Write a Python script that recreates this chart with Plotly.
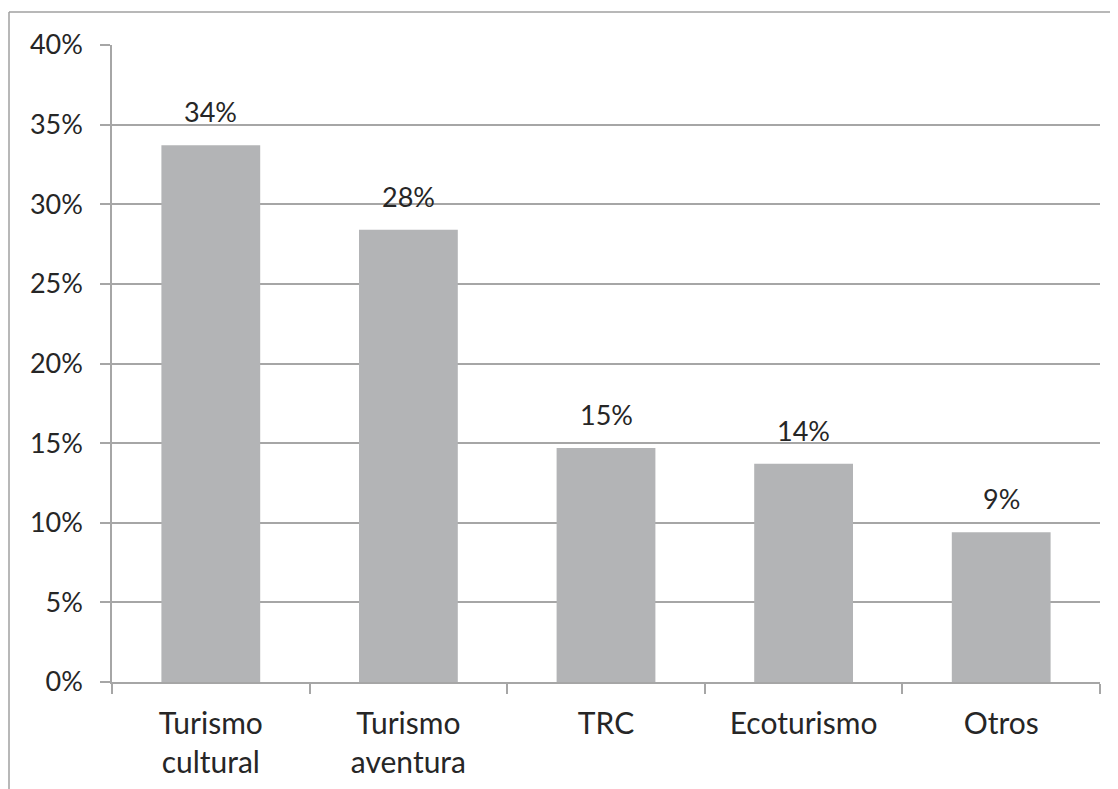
import plotly.graph_objects as go

categories = ["Turismo<br>cultural", "Turismo<br>aventura", "TRC", "Ecoturismo", "Otros"]
values = [0.337, 0.284, 0.147, 0.137, 0.094]
y_ticks = [0, 0.05, 0.10, 0.15, 0.20, 0.25, 0.30, 0.35, 0.40]

FONT = "Lato"
TXT = "#262626"
GRID = "#a6a6a6"

# page body has an 8px offset; the figure is placed at (8, 8)
OFF = 8
W, H = 1118, 789
L, T = 112 - OFF, 45 - OFF
R = W - (1100 - OFF)
B = H - (682 - OFF)
pw, ph = W - L - R, H - T - B

fig = go.Figure()
fig.add_trace(go.Bar(
    x=categories, y=values,
    marker=dict(color="#b3b4b6", line=dict(width=0)),
    hoverinfo="skip",
))

for c, v in zip(categories, values):
    fig.add_annotation(
        x=c, y=v, text=f"{round(v*100)}%", showarrow=False,
        yanchor="bottom", yshift=15,
        font=dict(family=FONT, size=27, color=TXT),
    )

def px(x):
    return (x - OFF - L) / pw

def py(y):
    return (H - B - (y - OFF)) / ph

fig.add_shape(type="line", xref="paper", yref="paper",
              x0=px(9), x1=px(9), y0=py(12), y1=py(800),
              line=dict(color="#a0a0a0", width=1.5))
fig.add_shape(type="line", xref="paper", yref="paper",
              x0=px(9), x1=px(1130), y0=py(12), y1=py(12),
              line=dict(color="#a0a0a0", width=1.5))

fig.update_layout(
    width=W, height=H,
    margin=dict(l=L, r=R, t=T, b=B),
    paper_bgcolor="white", plot_bgcolor="white",
    bargap=0.5, showlegend=False,
    font=dict(family=FONT, size=26, color=TXT),
)
fig.update_xaxes(
    showline=True, linecolor=GRID, linewidth=1.5,
    ticks="outside", tickson="boundaries", ticklen=10, tickcolor=GRID, tickwidth=1.5,
    showgrid=False, ticklabelstandoff=14,
    tickfont=dict(family=FONT, size=30, color=TXT),
)
fig.update_yaxes(
    range=[0, 0.4], tickvals=y_ticks, tickformat=".0%",
    showline=True, linecolor=GRID, linewidth=1.5,
    ticks="outside", ticklen=10, tickcolor=GRID, tickwidth=1.5,
    showgrid=True, gridcolor=GRID, gridwidth=1.5,
    zeroline=False, ticklabelstandoff=12,
    tickfont=dict(family=FONT, size=27, color=TXT),
)

fig.write_html("out.html")
